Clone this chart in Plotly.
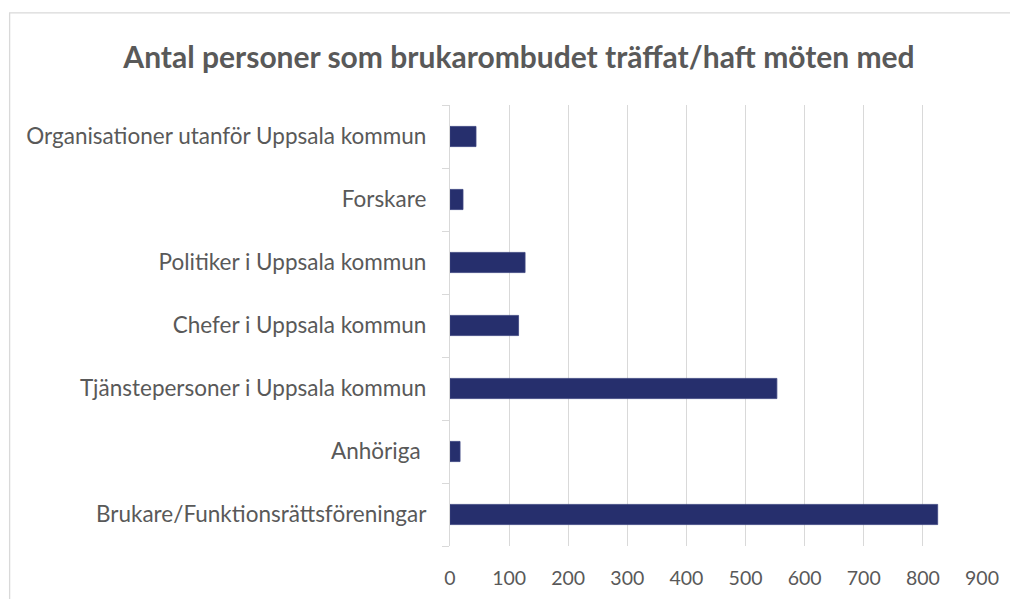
import plotly.graph_objects as go

categories = [
    "Brukare/Funktionsrättsföreningar",
    "Anhöriga\u00a0",
    "Tjänstepersoner i Uppsala kommun",
    "Chefer i Uppsala kommun",
    "Politiker i Uppsala kommun",
    "Forskare",
    "Organisationer utanför Uppsala kommun",
]
values = [825, 17, 553, 116, 127, 22, 44]
x_ticks = [0, 100, 200, 300, 400, 500, 600, 700, 800, 900]
title_text = "Antal personer som brukarombudet träffat/haft möten med"

TEXT = "#595959"
GRID = "#D9D9D9"
BAR = "#262F6D"
FONT = "Lato"

# page body adds an 8px offset; compensate
OFF = 8
W, H = 1018, 599
L = 449.5 - OFF
R = W - (982 - OFF)
T = 105.3 - OFF
B = H - (546 - OFF)
pw = W - L - R
ph = H - T - B

fig = go.Figure(go.Bar(
    y=categories, x=values, orientation="h",
    marker=dict(color=BAR, line=dict(color="#3C4580", width=0.8)),
    width=0.32,
))

fig.update_layout(
    width=W, height=H,
    margin=dict(l=L, r=R, t=T, b=B, pad=0),
    paper_bgcolor="white", plot_bgcolor="white",
    showlegend=False,
    font=dict(family=FONT, color=TEXT, size=22),
    title=dict(text="<b>" + title_text + "</b>", x=(519 - OFF) / W, xref="container",
               xanchor="center", y=1 - (57 - OFF) / H, yref="container", yanchor="middle",
               font=dict(family=FONT, size=30, color=TEXT)),
    xaxis=dict(range=[0, 900], tickvals=x_ticks, showgrid=True, gridcolor=GRID,
               gridwidth=1.3, zeroline=False, showline=False, ticks="",
               tickfont=dict(size=19.5, color=TEXT), ticklabelstandoff=18,
               fixedrange=True),
    yaxis=dict(type="category", categoryorder="array", categoryarray=categories,
               showline=True, linecolor=GRID, linewidth=1.3, ticks="outside",
               tickson="boundaries", ticklen=7, tickcolor=GRID, tickwidth=1.3,
               showgrid=False, tickfont=dict(size=22.5, color=TEXT),
               ticklabelstandoff=18, fixedrange=True),
    shapes=[dict(type="rect", xref="paper", yref="paper",
                 x0=(8.7 - OFF - L) / pw, x1=1.2, y0=-0.3,
                 y1=(H - B - (13.3 - OFF)) / ph,
                 line=dict(color=GRID, width=1.3), fillcolor="rgba(0,0,0,0)",
                 layer="below")],
)

fig.write_html("out.html")
